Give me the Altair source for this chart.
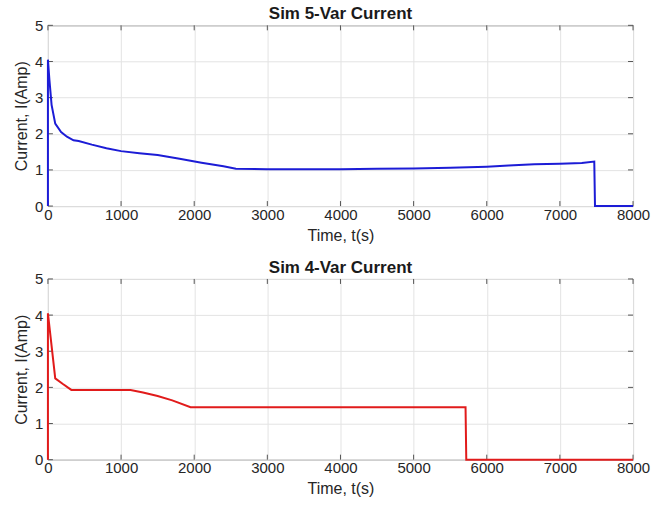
import altair as alt
import pandas as pd

# Sim 5-Var current (top panel)
t5 = [0, 0, 20, 50, 100, 180, 260, 350, 420, 600, 800, 1000, 1250, 1500, 1800,
      2100, 2400, 2570, 3000, 3500, 4000, 4500, 5000, 5500, 6000, 6300, 6650,
      7000, 7300, 7470, 7480, 8000]
i5 = [0, 4.05, 3.5, 2.8, 2.28, 2.05, 1.92, 1.82, 1.80, 1.70, 1.60, 1.52, 1.46,
      1.41, 1.31, 1.20, 1.10, 1.03, 1.02, 1.02, 1.02, 1.03, 1.04, 1.06, 1.09,
      1.12, 1.16, 1.17, 1.19, 1.23, 0, 0]

# Sim 4-Var current (bottom panel)
t4 = [0, 0, 100, 200, 320, 1130, 1300, 1500, 1700, 1950, 5710, 5720, 8000]
i4 = [0, 4.05, 2.25, 2.10, 1.93, 1.93, 1.86, 1.76, 1.64, 1.45, 1.45, 0, 0]

x_ticks = [0, 1000, 2000, 3000, 4000, 5000, 6000, 7000, 8000]
y_ticks = [0, 1, 2, 3, 4, 5]

W, H = 586, 181
FONT = "Liberation Sans"
TXT = "#262626"


def panel(t, i, color, title):
    df = pd.DataFrame({"t": t, "i": i, "k": list(range(len(t)))})
    xs = alt.Scale(domain=[0, 8000], nice=False)
    ys = alt.Scale(domain=[0, 5], nice=False)
    xa = alt.Axis(values=x_ticks, grid=True, ticks=False, format="d",
                  labelOverlap=False, title="Time, t(s)")
    ya = alt.Axis(values=y_ticks, grid=True, ticks=False, format="d",
                  labelOverlap=False, title="Current, I(Amp)")
    xt = pd.DataFrame({"v": x_ticks})
    yt = pd.DataFrame({"v": y_ticks})
    tick_style = dict(color="#555555", strokeWidth=1)
    xb = alt.Chart(xt).mark_rule(**tick_style).encode(
        x=alt.X("v:Q", scale=xs, axis=xa), y=alt.value(H), y2=alt.value(H - 5))
    xtop = alt.Chart(xt).mark_rule(**tick_style).encode(
        x=alt.X("v:Q", scale=xs, axis=xa), y=alt.value(0), y2=alt.value(5))
    yl = alt.Chart(yt).mark_rule(**tick_style).encode(
        y=alt.Y("v:Q", scale=ys, axis=ya), x=alt.value(0), x2=alt.value(5))
    yr = alt.Chart(yt).mark_rule(**tick_style).encode(
        y=alt.Y("v:Q", scale=ys, axis=ya), x=alt.value(W), x2=alt.value(W - 5))
    line = alt.Chart(df).mark_line(color=color, strokeWidth=2).encode(
        x=alt.X("t:Q", scale=xs, axis=xa),
        y=alt.Y("i:Q", scale=ys, axis=ya),
        order="k:Q",
    )
    return alt.layer(xb, xtop, yl, yr, line).properties(
        width=W, height=H,
        title=alt.TitleParams(title, fontSize=17, fontWeight="bold", font=FONT,
                              color="#1a1a1a", offset=0, dy=5),
    )


top = panel(t5, i5, "#1c1cd6", "Sim 5-Var Current")
bottom = panel(t4, i4, "#e11b1b", "Sim 4-Var Current")

chart = alt.vconcat(top, bottom, spacing=14).properties(
    padding={"left": 13, "top": 4, "right": 4, "bottom": 0}
).configure_view(
    stroke="#7a7a7a", strokeWidth=1
).configure_axis(
    labelFont=FONT, titleFont=FONT, labelFontSize=15, titleFontSize=16,
    labelColor=TXT, titleColor=TXT, titleFontWeight="normal",
    gridColor="#e3e3e3", gridWidth=1, domain=False,
    labelFlush=False, labelOverlap=False,
).configure_axisX(
    labelPadding=1, titlePadding=5,
).configure_axisY(
    labelPadding=5, titlePadding=5,
).configure_title(anchor="middle")

chart.save("out.html", embed_options={"renderer": "svg", "actions": False})
